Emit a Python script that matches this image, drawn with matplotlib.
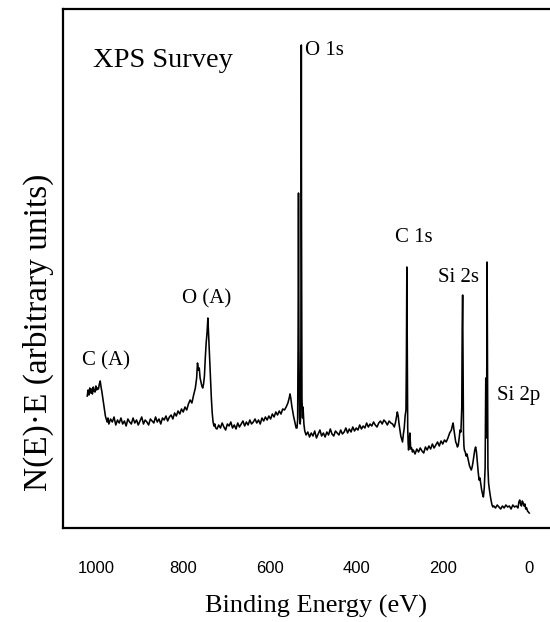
import matplotlib
matplotlib.use("Agg")
import matplotlib.pyplot as plt
import numpy as np

# ---------------- data (binding energy in eV, intensity in arbitrary units) ----------------
be_cauger = [1022, 1020, 1018, 1016, 1014, 1012, 1010, 1008, 1006, 1004, 1002, 1000, 998, 996,
             994, 992, 990, 988, 986, 984, 982, 980, 978, 976, 974]
in_cauger = [132, 138, 133, 140, 135, 139, 134, 141, 137, 136, 142, 138, 140, 139,
             144, 147, 141, 136, 130, 124, 118, 112, 109, 106, 110]

be_base1 = [972, 968, 964, 960, 956, 952, 948, 944, 940, 936, 932, 928, 924, 920, 916, 912, 908,
            904, 900, 896, 892, 888, 884, 880, 876, 872, 868, 864, 860, 856, 852, 848, 844, 840,
            836, 832]
in_base1 = [104, 109, 106, 111, 103, 108, 105, 110, 104, 107, 102, 109, 106, 104, 110, 105, 108,
            103, 107, 111, 104, 108, 106, 103, 109, 107, 105, 111, 106, 109, 104, 110, 108, 112,
            107, 111]

be_oauger = [828, 824, 820, 816, 812, 808, 804, 800, 796, 792, 788, 784, 780, 776, 772, 769, 767,
             765, 763, 761, 759, 757, 755, 753, 751, 749, 747, 745, 743, 741, 739, 737, 735, 733,
             731, 729, 727, 725]
in_oauger = [113, 109, 115, 112, 117, 114, 119, 116, 121, 118, 124, 128, 125, 133, 140, 150, 165,
             158, 160, 150, 146, 142, 140, 144, 152, 170, 185, 195, 210, 190, 168, 150, 130, 115,
             106, 102, 104, 100]

be_base2 = [722, 718, 714, 710, 706, 702, 698, 694, 690, 686, 682, 678, 674, 670, 666, 662, 658,
            654, 650, 646, 642, 638, 634, 630, 626, 622, 618, 614, 610, 606, 602, 598, 594, 590,
            586, 582, 578, 574, 570, 566, 562, 558, 555, 553, 551, 549, 547, 545, 543, 541, 539]
in_base2 = [99, 103, 100, 105, 101, 98, 104, 102, 106, 100, 103, 99, 105, 101, 104, 107, 102,
            106, 103, 108, 104, 106, 109, 105, 108, 104, 110, 107, 111, 108, 112, 109, 114, 111,
            116, 113, 117, 114, 119, 118, 121, 125, 130, 134, 129, 122, 117, 112, 108, 104, 100]

be_o1s = [537, 535.5, 534.5, 533.5, 532.5, 531, 529.5, 528.5, 527.5, 527, 526.5, 525.5, 524, 523,
          521, 519]
in_o1s = [100, 108, 180, 335, 180, 110, 104, 112, 250, 483, 300, 130, 110, 121, 104, 97]

be_base3 = [516, 512, 508, 504, 500, 496, 492, 488, 484, 480, 476, 472, 468, 464, 460, 456, 452,
            448, 444, 440, 436, 432, 428, 424, 420, 416, 412, 408, 404, 400, 396, 392, 388, 384,
            380, 376, 372, 368, 364, 360, 356, 352, 348, 344, 340, 336, 332, 328, 324, 320, 316,
            312]
in_base3 = [93, 96, 91, 95, 92, 97, 90, 94, 98, 92, 95, 91, 96, 93, 99, 94, 92, 97, 95, 93, 98,
            94, 96, 100, 95, 99, 96, 101, 97, 100, 98, 103, 99, 102, 100, 105, 101, 104, 102, 106,
            103, 101, 105, 107, 104, 108, 106, 103, 107, 105, 104, 101]

be_c1s = [309, 307, 305, 303, 301, 299, 297, 295, 293, 291, 289, 287, 285, 284, 283, 282, 281,
          280, 279, 278, 277, 276, 275, 274, 272, 270]
in_c1s = [106, 111, 116, 112, 104, 98, 92, 89, 86, 94, 100, 112, 118, 170, 261, 180, 100, 85, 78,
          82, 90, 95, 86, 79, 80, 76]

be_base4 = [268, 264, 260, 256, 252, 248, 244, 240, 236, 232, 228, 224, 220, 216, 212, 208, 204,
            200, 196, 192, 188, 184]
in_base4 = [78, 74, 79, 76, 80, 77, 75, 81, 78, 82, 79, 84, 80, 83, 86, 82, 87, 84, 88, 86, 90, 95]

be_si = [180, 178, 176, 174, 172, 170, 168, 166, 164, 162, 160, 158, 156, 155, 154, 153, 152, 151,
         150, 148, 146, 144, 142, 140, 138, 136, 134, 132, 130, 128, 126, 124, 122, 120, 118, 116,
         114, 112, 110, 108, 106, 104, 102, 100.5, 99.5, 98.5, 97.5, 96.5, 95.5, 94, 92, 90, 88,
         86, 84]
in_si = [98, 102, 105, 98, 92, 86, 84, 81, 83, 90, 98, 96, 120, 200, 233, 160, 95, 82, 78, 76, 72,
         74, 70, 66, 62, 60, 58, 61, 66, 72, 78, 81, 76, 66, 56, 48, 50, 44, 38, 34, 31, 40, 60,
         150, 90, 110, 266, 150, 60, 45, 38, 32, 27, 23, 21]

be_tail = [82, 78, 74, 70, 66, 62, 58, 54, 50, 46, 42, 38, 34, 30, 26, 24, 22, 20, 18, 16, 14, 12,
           10, 8, 6, 4, 2, 0]
in_tail = [22, 20, 23, 21, 19, 22, 20, 23, 21, 22, 19, 23, 21, 22, 20, 26, 28, 24, 22, 27, 25, 22,
           24, 19, 20, 17, 16, 15]

peak_labels = ["XPS Survey", "O 1s", "C 1s", "Si 2s", "Si 2p", "O (A)", "C (A)"]
label_be = [1008, 518, 310, 211, 74, 803, 1034]
label_in = [461, 473, 286, 246, 128, 225, 163]
label_size = [20.5, 15, 15, 15, 15, 15, 15]

tick_values = [1000, 800, 600, 400, 200, 0]
tick_marks = [1000, 600, 200]

# ---------------- assemble spectrum ----------------
be = np.concatenate([be_cauger, be_base1, be_oauger, be_base2, be_o1s, be_base3,
                     be_c1s, be_base4, be_si, be_tail]).astype(float)
inten = np.concatenate([in_cauger, in_base1, in_oauger, in_base2, in_o1s, in_base3,
                        in_c1s, in_base4, in_si, in_tail]).astype(float)

# ---------------- figure ----------------
W, H = 550, 622
fig = plt.figure(figsize=(W / 100, H / 100), dpi=100)
ax = fig.add_axes([63 / W, 1 - 528 / H, (W - 63) / W, (528 - 9) / H])

ax.plot(be, inten, color="black", lw=1.15)

ax.set_xlim(1078, -48)
ax.set_ylim(0, 519)

for s in ["left", "bottom", "top"]:
    ax.spines[s].set_linewidth(1.6)
ax.spines["right"].set_visible(False)

serif = ["Liberation Serif", "DejaVu Serif"]

ax.set_yticks([])
ax.set_xticks(tick_values)
ax.set_xticklabels([str(v) for v in tick_values], fontfamily="Liberation Sans", fontsize=12)
ax.tick_params(axis="x", which="major", length=0, pad=24)
ax.set_xticks(tick_marks, minor=True)
ax.tick_params(axis="x", which="minor", length=11, width=1.5, direction="out")

for txt, x, y, fs in zip(peak_labels, label_be, label_in, label_size):
    ax.text(x, y, txt, fontfamily=serif, fontsize=fs, ha="left", va="baseline")

ax.set_xlabel("Binding Energy (eV)", fontfamily=serif, fontsize=19)
ax.xaxis.set_label_coords((316 - 63) / 487, (528 - 606) / 519)
ax.xaxis.label.set_va("center")

ax.set_ylabel("N(E)·E (arbitrary units)", fontfamily=serif, fontsize=24)
ax.yaxis.set_label_coords((38 - 63) / 487, (528 - 332) / 519)
ax.yaxis.label.set_va("center")

fig.savefig("out.png", dpi=100)
